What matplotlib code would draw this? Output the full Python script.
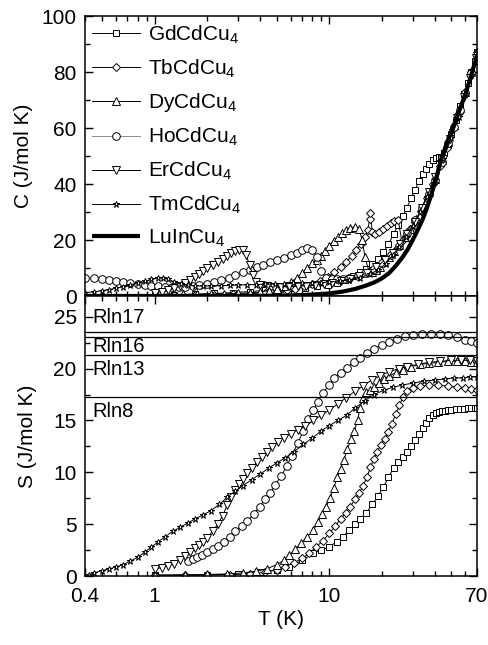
import matplotlib
matplotlib.use('Agg')
from matplotlib import pyplot as plt
from matplotlib.ticker import LogLocator, NullFormatter, FixedLocator, MultipleLocator

plt.rcParams['font.family'] = ['Liberation Sans', 'DejaVu Sans']
plt.rcParams['mathtext.fontset'] = 'custom'
plt.rcParams['mathtext.rm'] = 'Liberation Sans'
plt.rcParams['mathtext.it'] = 'Liberation Sans'

# ---- specific heat C(T), J/mol K ----
gd_T = [1.0, 1.3, 1.7, 2.2, 2.8, 3.5, 4.3, 5.2, 6.2, 7.3, 8.5, 9.8, 11, 12.3, 13.6, 15, 16.3, 17.6, 19,
        20.4, 21.8, 23.3, 24.8, 26.3, 27.8, 29.4, 31, 32.6, 34.2, 35.8, 37.4, 39, 40.6, 42.2, 43.8, 45.5,
        47.5, 50, 53, 56, 59, 62, 65, 68, 70]
gd_C = [0.3, 0.4, 0.6, 0.9, 1.2, 1.6, 2.0, 2.4, 2.7, 3.0, 3.4, 3.9, 4.6, 5.6, 7.0, 8.4, 9.6, 11.3, 13.3,
        15.6, 18.5, 22, 25.5, 28.5, 31.5, 35, 38, 41, 43.5, 45.5, 47.2, 48.5, 49.2, 49.5, 49.8, 51,
        54, 58, 63, 68, 72, 76, 80, 84, 87]

tb_T = [1.0, 1.3, 1.7, 2.2, 2.8, 3.5, 4.3, 5.0, 5.7, 6.4, 7.2, 8.0, 8.9, 9.8, 10.7, 11.6, 12.5, 13.4,
        14.3, 15.2, 16.0, 16.6, 17.0, 17.2, 17.6, 18.3, 19.2, 20.2, 21.3, 22.4, 23.6, 24.8, 26, 27.5,
        29, 31, 33.5, 36, 39, 43, 47, 51, 55, 60, 65, 70]
tb_C = [0.2, 0.25, 0.3, 0.4, 0.55, 0.8, 1.1, 1.5, 2.0, 2.6, 3.4, 4.3, 5.5, 6.9, 8.5, 10.2, 12.2, 14.2,
        16.3, 18.5, 21, 23.5, 27.5, 29.5, 23, 22, 22.8, 23.8, 25, 26, 26.8, 27.1, 19.5, 21.5,
        23.8, 26.5, 30.5, 35, 40, 46.5, 53, 59.5, 65.5, 73, 80, 87]

dy_T = [1.0, 1.2, 1.45, 1.75, 2.1, 2.5, 3.0, 3.5, 4.0, 4.5, 5.0, 5.5, 6.0, 6.5, 7.0, 7.5, 8.0, 8.5,
        9.0, 9.5, 10, 10.6, 11.2, 11.8, 12.5, 13.2, 14.0, 14.8, 15.4, 16.0, 16.8, 17.6, 18.5, 19.5,
        20.6, 22, 23.5, 25, 27, 29, 31.5, 34, 37, 40, 44, 48, 52, 56, 60, 65, 70]
dy_C = [0.6, 0.6, 0.6, 0.7, 0.7, 0.8, 0.9, 1.1, 1.4, 1.9, 2.6, 3.6, 4.9, 6.4, 8.2, 10, 11.7, 13,
        14.3, 16, 18, 19.8, 21.2, 22.4, 23.4, 24.2, 24.8, 24, 20, 14, 9, 8.5, 9.3, 10.5,
        12, 14, 16, 18.2, 21, 23.8, 27.5, 31.5, 37, 41.8, 48.5, 55, 61, 67, 73, 80, 87]

ho_T = [0.4, 0.45, 0.5, 0.55, 0.6, 0.66, 0.72, 0.8, 0.88, 0.96, 1.05, 1.15, 1.26, 1.38, 1.5, 1.65,
        1.8, 2.0, 2.2, 2.4, 2.65, 2.9, 3.2, 3.5, 3.85, 4.2, 4.6, 5.0, 5.5, 6.0, 6.5, 7.0, 7.5, 8.0,
        8.5, 9.0, 9.6, 10.3, 11, 12, 13, 14.5, 16, 18, 20, 22.5, 25, 28, 31, 34, 37, 40, 44, 48,
        52, 56, 60, 65, 70]
ho_C = [6.5, 6.3, 6.0, 5.7, 5.4, 5.0, 4.7, 4.3, 4.0, 3.7, 3.5, 3.3, 3.2, 3.2, 3.3, 3.5,
        3.8, 4.3, 4.9, 5.6, 6.5, 7.4, 8.4, 9.3, 10.3, 11.2, 12.0, 12.7, 13.6, 14.5, 15.5, 16.5, 17.0, 16.6,
        14, 9, 6.5, 6.0, 6.0, 6.2, 6.5, 7.2, 8.2, 9.8, 11.8, 14.8, 18, 22.5, 27, 31.5, 36.5, 41.5, 48, 54.5,
        60.5, 66.5, 72.5, 79.5, 86]

er_T = [1.0, 1.1, 1.2, 1.3, 1.4, 1.5, 1.6, 1.7, 1.8, 1.9, 2.0, 2.15, 2.3, 2.45, 2.6, 2.75, 2.9, 3.05,
        3.2, 3.35, 3.5, 3.65, 3.8, 4.0, 4.4, 4.8, 5.3, 5.9, 6.6, 7.4, 8.3, 9.3, 10.4, 11.7, 13.1, 14.7,
        16.5, 18.5, 20.7, 23, 25.5, 28, 31, 34, 37, 40.5, 44.5, 49, 54, 59, 64, 69]
er_C = [1.2, 1.6, 2.1, 2.8, 3.6, 4.5, 5.6, 6.8, 7.9, 9.0, 9.9, 11.0, 12.3, 13.3, 14.3, 15.2, 16.0, 16.6,
        16.4, 14.5, 11, 7.5, 5, 3.8, 3.4, 3.3, 3.3, 3.4, 3.5, 3.7, 3.9, 4.2, 4.6, 5.2, 6.0, 7.0,
        8.3, 10.2, 12.8, 15.5, 18.5, 22, 26.5, 31.5, 37, 42.5, 49, 56, 63.5, 71, 78, 85]

tm_T = [0.4, 0.45, 0.5, 0.55, 0.6, 0.66, 0.72, 0.8, 0.88, 0.96, 1.05, 1.12, 1.2, 1.3, 1.42, 1.55,
        1.7, 1.9, 2.1, 2.4, 2.7, 3.0, 3.4, 3.8, 4.3, 4.9, 5.5, 6.2, 7, 8, 9, 10, 11.5, 13, 15, 17, 19,
        21, 23, 25, 27.5, 30, 33, 36, 40, 45, 50, 55, 60, 65, 70]
tm_C = [1.2, 1.5, 1.9, 2.3, 2.8, 3.3, 3.9, 4.6, 5.3, 5.9, 6.4, 6.6, 6.0, 5.0, 4.2, 3.8,
        3.6, 3.6, 3.6, 3.7, 3.8, 3.9, 4.0, 4.1, 4.2, 4.3, 4.4, 4.5, 4.6, 4.7, 4.8, 5.0, 5.3, 5.8, 6.6, 7.8, 9.3,
        11.5, 14.5, 17.5, 21, 25, 30, 35.5, 41.5, 49, 56.5, 64, 72, 79, 86]

lu_T = [0.4, 2, 4, 6, 8, 10, 12, 14, 16, 18, 20, 22, 24, 26, 28, 30, 32, 34, 36, 38, 40, 44, 48, 52,
        56, 60, 65, 70]
lu_C = [0, 0, 0.05, 0.2, 0.5, 0.9, 1.6, 2.5, 3.6, 4.8, 6.3, 8.2, 10.8, 13.5, 16.5, 20, 23.5, 27, 31,
        35.5, 40, 49.5, 56, 61.5, 67, 72, 79, 86]

# ---- magnetic entropy S(T), J/mol K ----
gd_ST = [1.0, 2, 3, 4, 5, 5.9, 7, 8.1, 9, 10, 11, 12, 13, 14, 15, 16.3, 17.6, 19, 20.4, 21.8, 23.3,
         24.8, 26.3, 27.8, 29.4, 31, 32.6, 34.2, 35.8, 37.4, 39, 40.6, 42.2, 44, 46, 48, 50, 53, 56,
         59, 62, 65, 68, 70]
gd_S = [0.05, 0.1, 0.2, 0.35, 0.6, 0.9, 1.5, 2.2, 2.5, 2.8, 3.3, 3.8, 4.4, 5.0, 5.5, 6.1, 6.9, 7.7,
        8.6, 9.5, 10.4, 11.0, 11.5, 12.0, 12.5, 13.1, 13.7, 14.3, 14.8, 15.2, 15.5, 15.7, 15.8, 15.9,
        15.95, 16.0, 16.05, 16.1, 16.1, 16.15, 16.2, 16.2, 16.2, 16.2]

tb_ST = [1.0, 1.5, 2, 2.7, 3.5, 4.3, 5.0, 5.6, 6.3, 7.0, 7.7, 8.4, 9.2, 10, 10.8, 11.6, 12.4, 13.2,
         14, 14.8, 15.6, 16.4, 17.2, 18, 18.8, 19.7, 20.7, 21.7, 22.8, 24, 25.2, 26.5, 28, 30, 33, 37,
         42, 48, 54, 60, 65, 70]
tb_S = [0.05, 0.07, 0.1, 0.12, 0.2, 0.35, 0.6, 0.9, 1.3, 1.7, 2.2, 2.8, 3.4, 4.1, 4.8, 5.5, 6.1, 6.7,
        7.4, 8.0, 8.7, 9.5, 10.5, 11.3, 12.0, 12.6, 13.2, 13.9, 14.7, 15.6, 16.5, 17.3, 17.8, 18.1,
        18.3, 18.4, 18.4, 18.3, 18.2, 18.1, 18.0, 17.9]

dy_ST = [1.0, 1.5, 2, 2.6, 3.2, 3.8, 4.4, 5.0, 5.5, 5.9, 6.4, 6.9, 7.5, 8.1, 8.6, 9.1, 9.6, 10.1,
         10.6, 11.1, 11.6, 12.1, 12.7, 13.3, 13.9, 14.5, 15.0, 15.5, 16.2, 17, 18, 19.2, 20.5, 22, 24,
         26.5, 29.5, 33, 37, 42, 48, 54, 60, 65, 70]
dy_S = [0.1, 0.12, 0.15, 0.2, 0.3, 0.45, 0.7, 1.1, 1.5, 2.0, 2.6, 3.2, 3.8, 4.4, 5.2, 6.0, 6.7, 7.5,
        8.5, 9.5, 10.3, 11.2, 12.2, 13.2, 14.0, 15.0, 16.2, 17.2, 17.7, 17.9, 18.2, 18.6, 19.0, 19.3,
        19.6, 19.9, 20.2, 20.4, 20.5, 20.6, 20.7, 20.7, 20.7, 20.6, 20.6]

ho_ST = [1.55, 1.65, 1.75, 1.86, 2.0, 2.15, 2.3, 2.5, 2.7, 2.9, 3.15, 3.4, 3.7, 4.0, 4.3, 4.6, 4.9,
         5.3, 5.7, 6.1, 6.6, 7.1, 7.6, 8.1, 8.6, 9.2, 9.9, 10.7, 11.6, 12.6, 13.8, 15, 16.5, 18, 20,
         22, 24.5, 27, 30, 34, 38, 43, 48, 54, 60, 65, 70]
ho_S = [1.4, 1.6, 1.8, 2.0, 2.3, 2.6, 2.9, 3.3, 3.8, 4.3, 4.8, 5.3, 6.0, 6.7, 7.4, 8.0, 8.8,
        9.6, 10.6, 11.6, 12.8, 14.0, 15.1, 16.0, 16.8, 17.6, 18.4, 19.1, 19.6, 20.1, 20.6, 21.0, 21.5,
        21.9, 22.3, 22.6, 22.9, 23.1, 23.2, 23.3, 23.3, 23.3, 23.2, 23.0, 22.8, 22.7, 22.5]

er_ST = [1.0, 1.1, 1.2, 1.3, 1.4, 1.5, 1.6, 1.7, 1.8, 1.9, 2.0, 2.15, 2.3, 2.45, 2.6, 2.75, 2.9,
         3.05, 3.2, 3.4, 3.6, 3.85, 4.1, 4.4, 4.7, 5.1, 5.5, 6.0, 6.6, 7.3, 8.1, 9.0, 10, 11.2, 12.5,
         14, 15.5, 17.5, 19.5, 22, 25, 28, 32, 37, 43, 50, 57, 64, 70]
er_S = [0.7, 0.8, 1.0, 1.2, 1.5, 1.9, 2.3, 2.7, 3.0, 3.3, 3.7, 4.3, 5.0, 5.8, 6.8, 7.6, 8.3,
        8.9, 9.4, 9.9, 10.4, 11.0, 11.5, 12.0, 12.4, 12.9, 13.3, 13.7, 14.1, 14.5, 15.0, 15.5, 16.0,
        16.6, 17.2, 17.8, 18.3, 18.9, 19.3, 19.7, 20.0, 20.2, 20.4, 20.6, 20.7, 20.8, 20.8, 20.8, 20.7]

tm_ST = [0.42, 0.45, 0.5, 0.55, 0.6, 0.66, 0.72, 0.8, 0.88, 0.96, 1.05, 1.15, 1.27, 1.4, 1.55, 1.7,
         1.9, 2.1, 2.35, 2.6, 2.9, 3.2, 3.6, 4.0, 4.5, 5.0, 5.6, 6.3, 7.1, 8.0, 9.0, 10, 11.2, 12.6, 14,
         16, 18, 20.5, 23, 26, 30, 35, 40, 46, 52, 58, 64, 70]
tm_S = [0.1, 0.3, 0.5, 0.7, 0.85, 1.1, 1.4, 1.8, 2.3, 2.8, 3.3, 3.8, 4.3, 4.7, 5.1, 5.5,
        5.9, 6.3, 6.9, 7.6, 8.2, 8.7, 9.3, 9.8, 10.4, 10.9, 11.4, 12.0, 12.7, 13.3, 14.0, 14.5, 15.0,
        15.5, 16.2, 16.9, 17.5, 17.9, 18.2, 18.4, 18.6, 18.8, 18.9, 19.0, 19.1, 19.1, 19.2, 19.2]

# R ln(2J+1) reference levels
rln_labels = ['Rln17', 'Rln16', 'Rln13', 'Rln8']
rln_values = [23.55, 23.05, 21.33, 17.29]
rln_text_y = [24.9, 22.1, 19.9, 15.9]

series_C = [
    ('GdCdCu$_4$', gd_T, gd_C, 's'),
    ('TbCdCu$_4$', tb_T, tb_C, 'D'),
    ('DyCdCu$_4$', dy_T, dy_C, '^'),
    ('HoCdCu$_4$', ho_T, ho_C, 'o'),
    ('ErCdCu$_4$', er_T, er_C, 'v'),
    ('TmCdCu$_4$', tm_T, tm_C, '*'),
]
series_S = [
    (gd_ST, gd_S, 's'), (tb_ST, tb_S, 'D'), (dy_ST, dy_S, '^'),
    (ho_ST, ho_S, 'o'), (er_ST, er_S, 'v'), (tm_ST, tm_S, '*'),
]

FS = 15
fig = plt.figure(figsize=(4.89, 6.45), dpi=100)
ax1 = fig.add_axes([85 / 489, 1 - 296 / 645, 392 / 489, 280 / 645])
ax2 = fig.add_axes([85 / 489, 1 - 576 / 645, 392 / 489, 280 / 645])


def marker_style(m):
    size = {'s': 5.0, 'D': 4.3, '^': 5.5, 'o': 5.5, 'v': 5.5, '*': 5.0}[m]
    return dict(marker=m, ms=size, mfc='white', mec='black', mew=0.7)


# Top panel: specific heat
for label, T, C, m in series_C:
    lc = '0.55' if m == 'o' else 'black'
    ax1.plot(T, C, color=lc, lw=0.7, label=label, **marker_style(m))
ax1.plot(lu_T, lu_C, color='black', lw=3, label='LuInCu$_4$', solid_capstyle='butt')

# Bottom panel: entropy
for T, S, m in series_S:
    ax2.plot(T, S, color='black', lw=0.7, **marker_style(m))
for lab, val, ty in zip(rln_labels, rln_values, rln_text_y):
    ax2.axhline(val, color='black', lw=0.9)
    ax2.text(0.44, ty, lab, fontsize=14.5, va='center', ha='left')

for ax in (ax1, ax2):
    ax.set_xscale('log')
    ax.set_xlim(0.4, 70)
    ax.xaxis.set_major_locator(FixedLocator([1, 10]))
    ax.xaxis.set_minor_locator(LogLocator(base=10, subs=[2, 3, 4, 5, 6, 7, 8, 9]))
    ax.xaxis.set_minor_formatter(NullFormatter())
    ax.tick_params(which='both', direction='in', top=True, right=True, labelsize=FS, width=1)
    ax.tick_params(which='major', length=6)
    ax.tick_params(which='minor', length=3.5)
    ax.tick_params(axis='y', which='major', pad=6)
    ax.tick_params(axis='x', which='major', pad=8)
    for s in ['top', 'bottom', 'left', 'right']:
        ax.spines[s].set_linewidth(1.1)

ax1.set_ylim(0, 100)
ax1.yaxis.set_major_locator(MultipleLocator(20))
ax1.yaxis.set_minor_locator(MultipleLocator(10))
ax1.tick_params(labelbottom=False)
ax1.set_ylabel('C (J/mol K)', fontsize=FS, labelpad=6)

ax2.set_ylim(0, 27)
ax2.yaxis.set_major_locator(MultipleLocator(5))
ax2.yaxis.set_minor_locator(MultipleLocator(2.5))
ax2.set_xticks([0.4, 1, 10, 70])
ax2.set_xticklabels(['0.4', '1', '10', '70'])
ax2.set_ylabel('S (J/mol K)', fontsize=FS, labelpad=12)
ax2.set_xlabel('T (K)', fontsize=FS, labelpad=3)

leg = ax1.legend(loc='upper left', frameon=False, fontsize=FS, handlelength=2.3,
                 handletextpad=0.35, labelspacing=0.56, borderaxespad=0.15, borderpad=0.2)

fig.savefig('out.png', dpi=100)
